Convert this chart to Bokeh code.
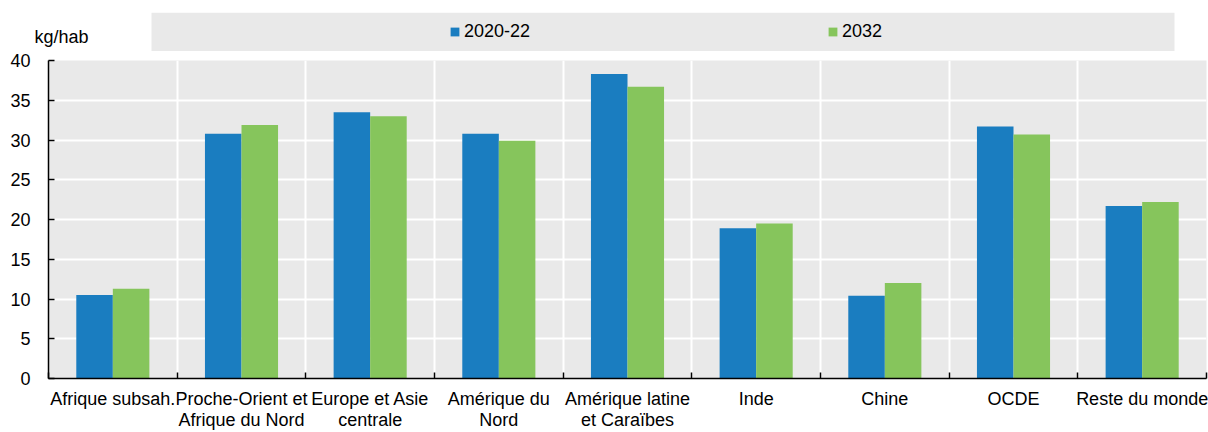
from bokeh.plotting import figure
from bokeh.models import FixedTicker, Legend, LegendItem, Range1d, ColumnDataSource, BoxAnnotation
from bokeh.layouts import column
from bokeh.embed import file_html
from bokeh.resources import INLINE

categories = ["Afrique subsah.", "Proche-Orient et\nAfrique du Nord", "Europe et Asie\ncentrale",
              "Amérique du\nNord", "Amérique latine\net Caraïbes", "Inde", "Chine", "OCDE",
              "Reste du monde"]
series_names = ["2020-22", "2032"]
values_2020_22 = [10.5, 30.8, 33.5, 30.8, 38.3, 18.9, 10.4, 31.7, 21.7]
values_2032 = [11.3, 31.9, 33.0, 29.9, 36.7, 19.5, 12.0, 30.7, 22.2]
y_ticks = [0, 5, 10, 15, 20, 25, 30, 35, 40]
unit_label = "kg/hab"

BLUE = "#1A7DC0"
GREEN = "#86C55C"
BG = "#E9E9E9"
FONT = "Liberation Sans"
FS = "18px"

idx = list(range(len(categories)))
bar_w = 0.284
src = ColumnDataSource(dict(
    x1=[i - bar_w / 2 for i in idx], x2=[i + bar_w / 2 for i in idx],
    v1=values_2020_22, v2=values_2032))

p = figure(width=1208, height=381, x_range=Range1d(-0.5, len(categories) - 0.5),
           y_range=Range1d(y_ticks[0], y_ticks[-1]), output_backend="svg",
           toolbar_location=None, min_border_left=48, min_border_right=2,
           min_border_top=9, min_border_bottom=50, background_fill_color=BG,
           outline_line_color=None, border_fill_color="white")

p.vbar(x="x1", top="v1", width=bar_w, source=src, fill_color=BLUE, line_color=None)
p.vbar(x="x2", top="v2", width=bar_w, source=src, fill_color=GREEN, line_color=None)

xt = FixedTicker(ticks=idx, minor_ticks=[i - 0.5 for i in idx] + [idx[-1] + 0.5])
p.xaxis.ticker = xt
p.xgrid.ticker = xt
p.xaxis.major_label_overrides = {i: c for i, c in enumerate(categories)}
p.xaxis.major_tick_line_color = None
p.xaxis.minor_tick_in = 6
p.xaxis.minor_tick_out = 0
p.xaxis.minor_tick_line_color = "black"
p.xaxis.minor_tick_line_width = 1.5
p.xaxis.major_label_standoff = 4
p.xaxis.major_label_text_line_height = 1.05
p.xgrid.grid_line_color = None
p.xgrid.minor_grid_line_color = "white"
p.xgrid.minor_grid_line_width = 2

yt = FixedTicker(ticks=y_ticks, minor_ticks=[])
p.yaxis.ticker = yt
p.ygrid.ticker = yt
p.yaxis.major_tick_in = 6
p.yaxis.major_tick_out = 0
p.yaxis.major_tick_line_width = 1.5
p.yaxis.major_label_standoff = 18
p.ygrid.grid_line_color = "white"
p.ygrid.grid_line_width = 2

for ax in (p.xaxis, p.yaxis):
    ax.axis_line_color = "black"
    ax.axis_line_width = 1.5
    ax.major_label_text_font = FONT
    ax.major_label_text_font_size = FS
    ax.major_label_text_color = "black"

# legend strip above the chart (same side borders, so the frames line up; 1 unit = 1 px)
lf = figure(width=1208, height=51, x_range=Range1d(0, 1158), y_range=Range1d(0, 39),
            output_backend="svg", toolbar_location=None, min_border_left=48,
            min_border_right=2, min_border_top=12, min_border_bottom=0,
            background_fill_color="white", outline_line_color=None, border_fill_color="white")
lf.xaxis.visible = False
lf.grid.visible = False
lf.add_layout(BoxAnnotation(left=103, right=1126, bottom=0, top=39, fill_color=BG,
                            fill_alpha=1, line_color=None, level="underlay"))
r1 = lf.vbar(x=[0], top=[0], width=1, fill_color=BLUE, line_color=None)
r2 = lf.vbar(x=[0], top=[0], width=1, fill_color=GREEN, line_color=None)
leg = Legend(items=[LegendItem(label=series_names[0], renderers=[r1]),
                    LegendItem(label=series_names[1], renderers=[r2])],
             orientation="horizontal", location=(401, 9), glyph_width=11, glyph_height=11,
             label_standoff=4, spacing=297, padding=0, margin=0,
             background_fill_alpha=0, border_line_color=None,
             label_text_font=FONT, label_text_font_size=FS, label_height=20,
             label_text_color="black")
lf.add_layout(leg, "center")

# unit text drawn as the strip's single left tick label
lf.yaxis.ticker = FixedTicker(ticks=[15], minor_ticks=[])
lf.yaxis.major_label_overrides = {15: unit_label}
lf.yaxis.axis_line_color = None
lf.yaxis.major_tick_line_color = None
lf.yaxis.minor_tick_line_color = None
lf.yaxis.major_label_standoff = -46
lf.yaxis.major_label_text_font = FONT
lf.yaxis.major_label_text_font_size = FS
lf.yaxis.major_label_text_color = "black"

layout = column(lf, p, spacing=0)
open("out.html", "w").write(file_html(layout, INLINE))
